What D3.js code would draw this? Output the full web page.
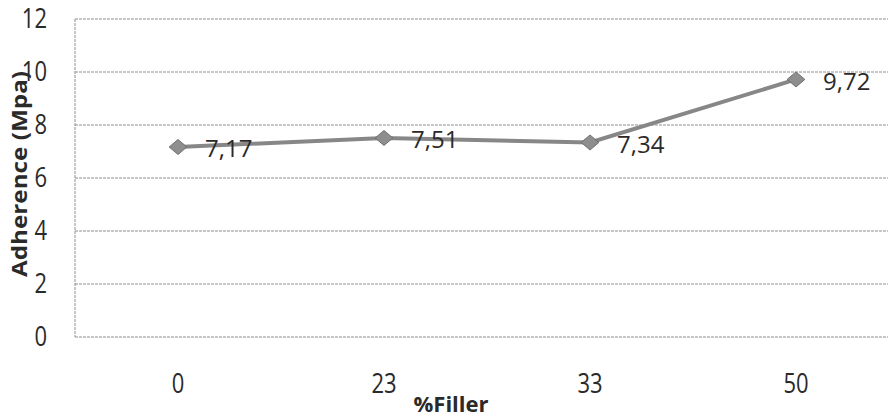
<!DOCTYPE html>
<html>
<head>
<meta charset="utf-8">
<script src="https://cdn.jsdelivr.net/npm/d3@7"></script>
<style>
  body { margin: 0; background: #fff; }
  svg { display: block; }
  text { font-family: "Open Sans", "Liberation Sans", sans-serif; }
</style>
</head>
<body>
<svg id="chart" width="890" height="420"></svg>
<script>
// Adherence measured for each filler content
const fillers = ["0", "23", "33", "50"];
const adherence = [7.17, 7.51, 7.34, 9.72];
const valueLabels = ["7,17", "7,51", "7,34", "9,72"];
const yTicks = [0, 2, 4, 6, 8, 10, 12];

const svg = d3.select("#chart");
const plotLeft = 75, plotRight = 899, plotTop = 19, plotBottom = 337;
const textColor = "#2a2a2a";

const x = d3.scalePoint().domain(fillers).range([plotLeft, plotRight]).padding(0.5);
const y = d3.scaleLinear().domain([0, 12]).range([plotBottom, plotTop]);

// horizontal gridlines
svg.append("g")
  .selectAll("line")
  .data(yTicks)
  .join("line")
  .attr("x1", plotLeft).attr("x2", 888)
  .attr("y1", d => y(d)).attr("y2", d => y(d))
  .attr("stroke", "#8f8f8f")
  .attr("stroke-width", 1)
  .attr("stroke-dasharray", "3,1");

// vertical axis line
svg.append("line")
  .attr("x1", plotLeft).attr("x2", plotLeft)
  .attr("y1", plotTop).attr("y2", plotBottom)
  .attr("stroke", "#8f8f8f").attr("stroke-dasharray", "3,1");

// y tick labels (slightly tall glyphs)
svg.append("g")
  .selectAll("text")
  .data(yTicks)
  .join("text")
  .attr("transform", d => `translate(47,${y(d)}) scale(1,1.2)`)
  .attr("text-anchor", "end")
  .attr("dy", "0.35em")
  .attr("font-size", 22).attr("fill", textColor)
  .text(d => d);

// x tick labels
svg.append("g")
  .selectAll("text")
  .data(fillers)
  .join("text")
  .attr("transform", d => `translate(${x(d)},${plotBottom + 56}) scale(1,1.2)`)
  .attr("text-anchor", "middle")
  .attr("font-size", 22).attr("fill", textColor)
  .text(d => d);

// axis titles
svg.append("text")
  .attr("x", 451).attr("y", 412)
  .attr("text-anchor", "middle")
  .attr("font-size", 22).attr("font-weight", "bold").attr("fill", textColor)
  .text("%Filler");

svg.append("text")
  .attr("transform", "translate(27,174) rotate(-90)")
  .attr("text-anchor", "middle")
  .attr("font-size", 21).attr("font-weight", "bold").attr("fill", textColor)
  .attr("textLength", 206).attr("lengthAdjust", "spacingAndGlyphs")
  .text("Adherence (Mpa)");

// series line
const pts = fillers.map((f, i) => [x(f), y(adherence[i])]);
svg.append("path")
  .attr("d", d3.line()(pts))
  .attr("fill", "none")
  .attr("stroke", "#878787")
  .attr("stroke-width", 4);

// diamond markers
svg.append("g")
  .selectAll("path")
  .data(fillers)
  .join("path")
  .attr("transform", (d, i) => `translate(${x(d)},${y(adherence[i])}) scale(1,0.85)`)
  .attr("d", d3.symbol(d3.symbolDiamond2, 200))
  .attr("fill", "#8e8e8e")
  .attr("stroke", "#6a6a6a")
  .attr("stroke-width", 1);

// value labels
svg.append("g")
  .selectAll("text")
  .data(fillers)
  .join("text")
  .attr("x", d => x(d) + 27)
  .attr("y", (d, i) => y(adherence[i]))
  .attr("dy", "0.42em")
  .attr("font-size", 24).attr("fill", textColor)
  .text((d, i) => valueLabels[i]);
</script>
</body>
</html>
